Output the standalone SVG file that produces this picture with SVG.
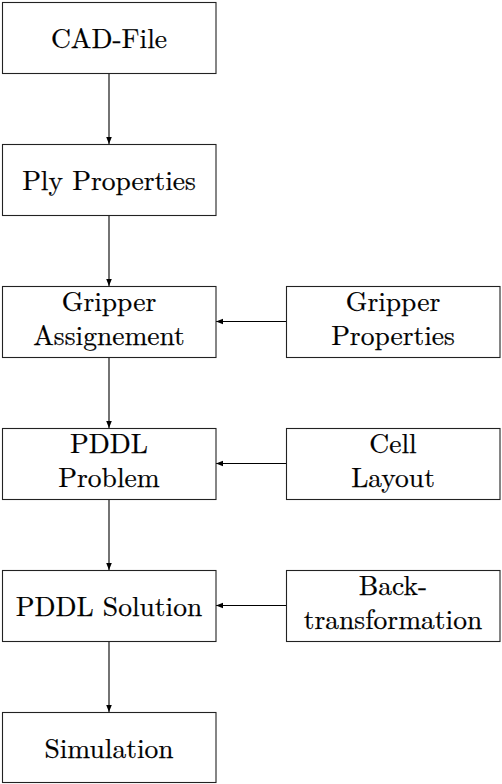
<svg xmlns="http://www.w3.org/2000/svg" width="502" height="784" viewBox="0 0 502 784">
<style>
.n{fill:#fff;stroke:#222;stroke-width:1.1}
.t{font-family:"Latin Modern Roman","Liberation Serif",serif;font-size:27.5px;fill:#000;text-anchor:middle;stroke:#000;stroke-width:0.25}
.e{stroke:#000;stroke-width:1.1}
</style>
<defs>
<marker id="ah" viewBox="0 0 10 10" refX="10" refY="5" markerWidth="7" markerHeight="7" markerUnits="userSpaceOnUse" orient="auto">
<path d="M0,1 L10,5 L0,9 z" fill="#000"/>
</marker>
</defs>
<rect x="0" y="0" width="502" height="784" fill="#fff"/>
<g id="connectors">
<line class="e" x1="109" y1="73" x2="109" y2="144" marker-end="url(#ah)"/>
<line class="e" x1="109" y1="215" x2="109" y2="286" marker-end="url(#ah)"/>
<line class="e" x1="109" y1="357" x2="109" y2="428" marker-end="url(#ah)"/>
<line class="e" x1="109" y1="499" x2="109" y2="570" marker-end="url(#ah)"/>
<line class="e" x1="109" y1="641" x2="109" y2="712" marker-end="url(#ah)"/>
<line class="e" x1="286" y1="321.5" x2="216" y2="321.5" marker-end="url(#ah)"/>
<line class="e" x1="286" y1="463.5" x2="216" y2="463.5" marker-end="url(#ah)"/>
<line class="e" x1="286" y1="605.5" x2="216" y2="605.5" marker-end="url(#ah)"/>
</g>
<g id="cad"><rect class="n" x="2.5" y="2.5" width="213.5" height="71"/><text class="t" x="109" y="48">CAD-File</text></g>
<g id="ply"><rect class="n" x="2.5" y="144.5" width="213.5" height="71"/><text class="t" x="109" y="190">Ply Properties</text></g>
<g id="gripassign"><rect class="n" x="2.5" y="286.5" width="213.5" height="71"/><text class="t" x="109" y="311">Gripper</text><text class="t" x="109" y="345">Assignement</text></g>
<g id="grippropr"><rect class="n" x="286.5" y="286.5" width="213.5" height="71"/><text class="t" x="393" y="311">Gripper</text><text class="t" x="393" y="345">Properties</text></g>
<g id="problem"><rect class="n" x="2.5" y="428.5" width="213.5" height="71"/><text class="t" x="109" y="453">PDDL</text><text class="t" x="109" y="487">Problem</text></g>
<g id="cell"><rect class="n" x="286.5" y="428.5" width="213.5" height="71"/><text class="t" x="393" y="453">Cell</text><text class="t" x="393" y="487">Layout</text></g>
<g id="solution"><rect class="n" x="2.5" y="570.5" width="213.5" height="71"/><text class="t" x="109" y="616">PDDL Solution</text></g>
<g id="back"><rect class="n" x="286.5" y="570.5" width="213.5" height="71"/><text class="t" x="393" y="595">Back-</text><text class="t" x="393" y="629">transformation</text></g>
<g id="sim"><rect class="n" x="2.5" y="712.5" width="213.5" height="70"/><text class="t" x="109" y="758">Simulation</text></g>
</svg>
